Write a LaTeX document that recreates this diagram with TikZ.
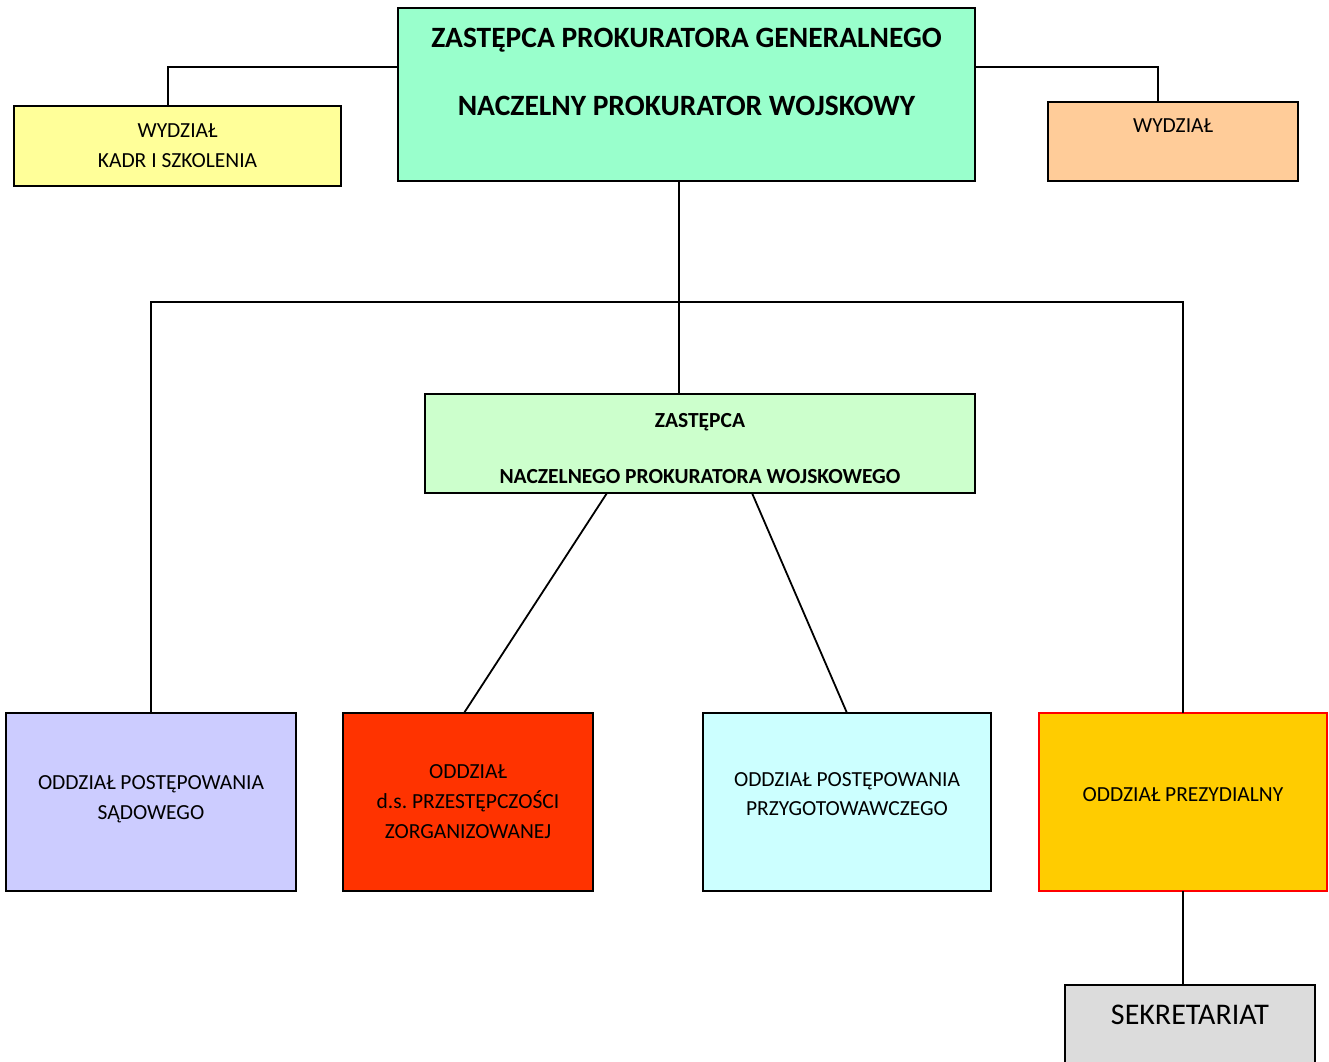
\documentclass[tikz,border=0pt]{standalone}
\usepackage{fontspec}
\setmainfont{Carlito}
\definecolor{ngpgreen}{HTML}{99FFCC}
\definecolor{kadryellow}{HTML}{FFFF99}
\definecolor{wydzorange}{HTML}{FFCC99}
\definecolor{zastgreen}{HTML}{CCFFCC}
\definecolor{sadviolet}{HTML}{CCCCFF}
\definecolor{zorgred}{HTML}{FF3300}
\definecolor{przygcyan}{HTML}{CCFFFF}
\definecolor{prezgold}{HTML}{FFCC00}
\definecolor{sekgray}{HTML}{DCDCDC}
\begin{document}
\begin{tikzpicture}[
    x=1pt, y=-1pt,
    unit/.style={draw, line width=1.8pt, fill=#1, inner sep=0pt, outer sep=0pt, align=center, font=\fontsize{21.5}{30}\selectfont},
    lower/.style={minimum width=#1, minimum height=178pt},
    link/.style={line width=1.8pt}
]
    \useasboundingbox (0,0) rectangle (1329,1061);

    % Top level
    \node[unit=ngpgreen, minimum width=577pt, minimum height=173pt, font=\fontsize{29.5}{34}\selectfont\bfseries] (ngp) at (686.5,94.5)
        {ZASTĘPCA PROKURATORA GENERALNEGO\\[34pt]NACZELNY PROKURATOR WOJSKOWY\\[11pt]};
    \node[unit=kadryellow, minimum width=327pt, minimum height=80pt] (kadr) at (177.5,146) {WYDZIAŁ\\KADR I SZKOLENIA};
    \node[unit=wydzorange, minimum width=250pt, minimum height=79pt] (wydz) at (1173,141.5) {WYDZIAŁ\\[1pt]};

    % Deputy
    \node[unit=zastgreen, minimum width=550pt, minimum height=99pt, font=\fontsize{21.5}{28}\selectfont\bfseries] (zast) at (700,443.5)
        {ZASTĘPCA\\[28pt]NACZELNEGO PROKURATORA WOJSKOWEGO\\[-38pt]};

    % Departments
    \node[unit=sadviolet, lower=290pt] (sad) at (151,802) {ODDZIAŁ POSTĘPOWANIA\\SĄDOWEGO\\[-22pt]};
    \node[unit=zorgred, lower=250pt] (zorg) at (468,802) {ODDZIAŁ\\d.s.\ PRZESTĘPCZOŚCI\\ZORGANIZOWANEJ};
    \node[unit=przygcyan, lower=288pt, font=\fontsize{21.5}{29}\selectfont] (przyg) at (847,802) {ODDZIAŁ POSTĘPOWANIA\\PRZYGOTOWAWCZEGO\\[-14pt]};
    \node[unit=prezgold, draw=red, lower=288pt] (prez) at (1183,802) {ODDZIAŁ PREZYDIALNY\\[-16pt]};
    \node[unit=sekgray, minimum width=250pt, minimum height=95pt, font=\fontsize{30}{34}\selectfont] (sek) at (1190,1032.5) {SEKRETARIAT\\[1pt]};

    % Connections
    \coordinate (bus) at (679,302);
    \draw[link] ([yshift=-59pt]ngp.north west) -| ([xshift=-9.5pt]kadr.north);
    \draw[link] ([yshift=-59pt]ngp.north east) -| ([xshift=-15pt]wydz.north);
    \draw[link] (ngp.south -| bus) -- (zast.north -| bus);
    \draw[link] (sad.north) |- (bus) -| (prez.north);
    \draw[link] ([xshift=-93pt]zast.south) -- ([xshift=-4pt]zorg.north);
    \draw[link] ([xshift=52pt]zast.south) -- (przyg.north);
    \draw[link] (prez.south) -- (prez.south |- sek.north);
\end{tikzpicture}
\end{document}
